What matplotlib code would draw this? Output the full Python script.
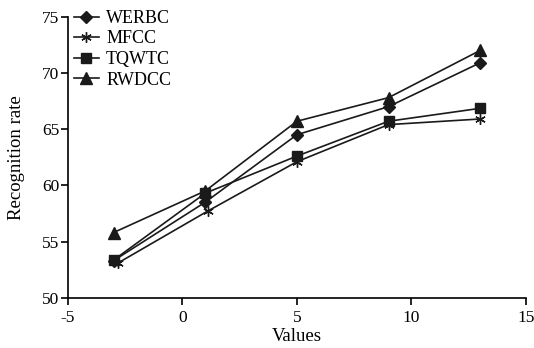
import matplotlib
matplotlib.use('Agg')
import matplotlib.pyplot as plt
import numpy as np

plt.rcParams['font.family'] = ['Liberation Serif', 'DejaVu Serif']
plt.rcParams['font.size'] = 12.5
plt.rcParams['axes.unicode_minus'] = False

x_pos = [-3, 1, 5, 9, 13]
x_mfcc = [-2.8, 1.1, 5, 9, 13]
werbc = [53.3, 58.5, 64.5, 67.0, 70.9]
mfcc = [53.1, 57.7, 62.1, 65.4, 65.9]
tqwtc = [53.35, 59.3, 62.6, 65.7, 66.85]
rwdcc = [55.8, 59.5, 65.7, 67.8, 72.0]

fig = plt.figure(figsize=(5.34, 3.48), dpi=100)
ax = fig.add_axes([0.127, 0.1445, 0.858, 0.8075])

kw = dict(color='#1a1a1a', linewidth=1.2)
ax.plot(x_pos, werbc, marker='D', markersize=6, label='WERBC', **kw)
ax.plot(x_mfcc, mfcc, marker=(6, 2, 0), markersize=7.5, label='MFCC', **kw)
ax.plot(x_pos, tqwtc, marker='s', markersize=7.5, label='TQWTC', **kw)
ax.plot(x_pos, rwdcc, marker='^', markersize=8, label='RWDCC', **kw)

ax.set_xlim(-5, 15)
ax.set_ylim(50, 75)
ax.set_xticks([-5, 0, 5, 10, 15])
ax.set_yticks([50, 55, 60, 65, 70, 75])
ax.spines['top'].set_visible(False)
ax.spines['right'].set_visible(False)
for s in ['left', 'bottom']:
    ax.spines[s].set_linewidth(1.2)
ax.tick_params(direction='out', length=5, width=1.2)
ax.tick_params(axis='x', pad=4)
ax.tick_params(axis='y', pad=1)
ax.set_xlabel('Values', fontsize=13.5, labelpad=1)
ax.set_ylabel('Recognition rate', fontsize=13.5)
ax.yaxis.set_label_coords(-0.094, 0.5)

ax.legend(loc='upper left', frameon=False, fontsize=13, handlelength=1.4,
          handletextpad=0.4, labelspacing=0.2, borderaxespad=0.0,
          bbox_to_anchor=(-0.003, 1.05))

fig.savefig('out.png', dpi=100)
